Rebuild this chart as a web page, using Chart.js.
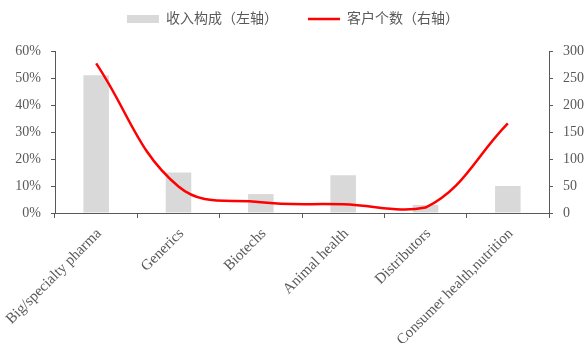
<!DOCTYPE html>
<html>
<head>
<meta charset="utf-8">
<script src="https://cdn.jsdelivr.net/npm/chart.js@4"></script>
<style>
  body { margin: 0; background: #fff; }
</style>
</head>
<body>
<canvas id="customerChart" width="586" height="343"></canvas>
<script>
const categories = ["Big/specialty pharma", "Generics", "Biotechs", "Animal health", "Distributors", "Consumer health,nutrition"];
const revenueShare = [51, 15, 7, 14, 3, 10];      // % of revenue, left axis
const customerCount = [277, 49, 20, 16, 10, 166]; // number of customers, right axis
const shareTicks = [0, 10, 20, 30, 40, 50, 60];
const countTicks = [0, 50, 100, 150, 200, 250, 300];
const seriesNames = ["收入构成（左轴）", "客户个数（右轴）"];

const textColor = "#595959";
const axisColor = "#595959";
Chart.defaults.font.family = "'Liberation Serif', 'Noto Sans CJK SC', serif";
Chart.defaults.font.size = 14;
Chart.defaults.color = textColor;

// leave room under the legend so the plot starts where the reference does
const legendGap = {
  id: "legendGap",
  beforeInit(chart) {
    const fit = chart.legend.fit;
    chart.legend.fit = function () {
      fit.bind(chart.legend)();
      this.height = 69;
    };
  },
};

const ctx = document.getElementById("customerChart").getContext("2d");

new Chart(ctx, {
  type: "bar",
  data: {
    labels: categories,
    datasets: [
      {
        label: seriesNames[0],
        data: revenueShare,
        backgroundColor: "#d9d9d9",
        borderWidth: 0,
        yAxisID: "y",
        order: 1,
        categoryPercentage: 1,
        barPercentage: 0.31,
        pointStyle: "rect",
      },
      {
        type: "line",
        label: seriesNames[1],
        data: customerCount,
        borderColor: "#ff0000",
        backgroundColor: "#ff0000",
        borderWidth: 2.5,
        pointRadius: 0,
        tension: 0.4,
        yAxisID: "y1",
        order: 0,
        pointStyle: "line",
      },
    ],
  },
  options: {
    responsive: false,
    animation: false,
    layout: { padding: { top: -18, left: 0, right: 0, bottom: 0 } },
    plugins: {
      tooltip: { enabled: false },
      legend: {
        position: "top",
        labels: {
          usePointStyle: true,
          pointStyleWidth: 32,
          boxHeight: 8,
          padding: 30,
          color: textColor,
          font: { size: 14 },
          sort: (a, b) => a.datasetIndex - b.datasetIndex,
        },
      },
    },
    scales: {
      x: {
        grid: { drawOnChartArea: false, drawTicks: true, tickLength: 5, color: axisColor },
        border: { display: true, color: axisColor, width: 1 },
        ticks: {
          minRotation: 45,
          maxRotation: 45,
          padding: 7,
          labelOffset: 3,
          color: textColor,
          font: { size: 15 },
        },
        afterFit: (scale) => {
          scale.height = 130;
          scale.paddingLeft = 0;
          scale.paddingRight = 0;
        },
      },
      y: {
        position: "left",
        min: shareTicks[0],
        max: shareTicks[shareTicks.length - 1],
        grid: { drawOnChartArea: false, drawTicks: true, tickLength: 4, color: axisColor },
        border: { display: true, color: axisColor, width: 1 },
        ticks: { stepSize: shareTicks[1] - shareTicks[0], padding: 10, callback: (v) => v + "%" },
        afterFit: (scale) => { scale.width = 55; },
      },
      y1: {
        position: "right",
        min: countTicks[0],
        max: countTicks[countTicks.length - 1],
        grid: { drawOnChartArea: false, drawTicks: true, tickLength: 4, color: axisColor },
        border: { display: true, color: axisColor, width: 1 },
        ticks: { stepSize: countTicks[1] - countTicks[0], padding: 10 },
        afterFit: (scale) => { scale.width = 37; },
      },
    },
  },
  plugins: [legendGap],
});
</script>
</body>
</html>
